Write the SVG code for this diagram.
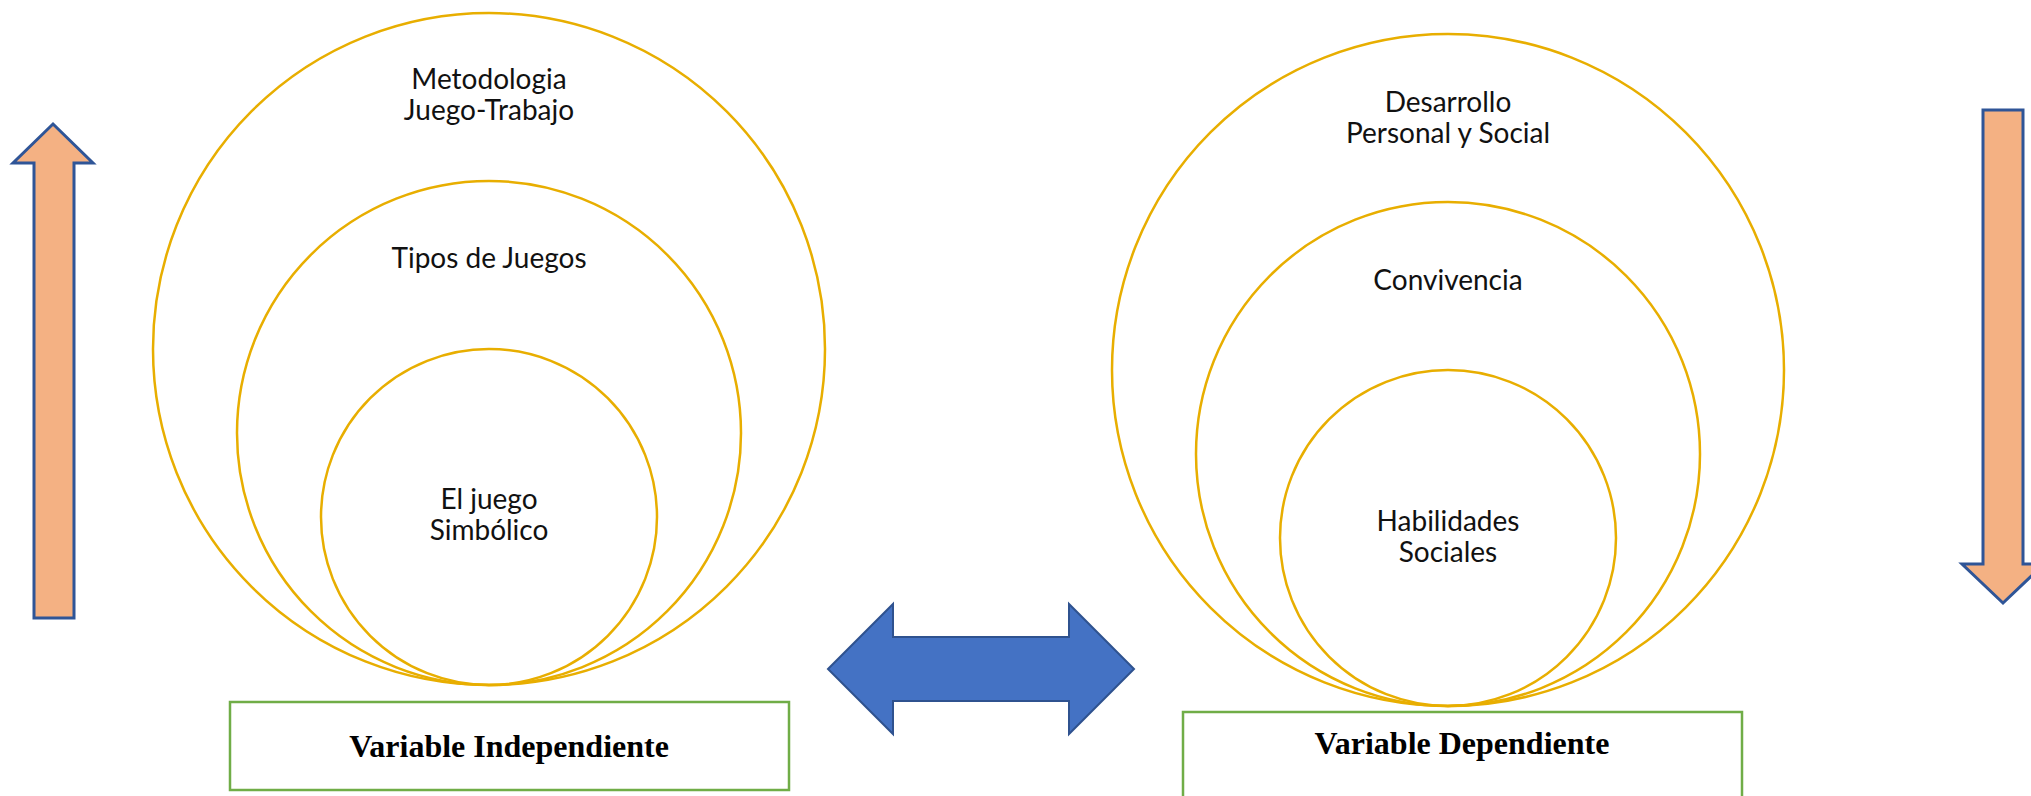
<svg xmlns="http://www.w3.org/2000/svg" width="2031" height="796" viewBox="0 0 2031 796">
<style>
.ring{fill:none;stroke:#E8AE00;stroke-width:2.5}
.lbl{font-family:Lato,"Liberation Sans",sans-serif;font-size:28px;fill:#111;text-anchor:middle}
.box{fill:#fff;stroke:#70AD47;stroke-width:2.5}
.var{font-family:"Liberation Serif","Times New Roman",serif;font-weight:bold;font-size:32px;fill:#000;text-anchor:middle}
.orange{fill:#F4B183;stroke:#2F5597;stroke-width:3}
.blue{fill:#4472C4;stroke:#2F528F;stroke-width:2}
</style>
<rect width="2031" height="796" fill="#fff"/>
<g id="connectors">
<polygon class="orange" points="53,124 93,163 74,163 74,618 34,618 34,163 13,163"/>
<polygon class="orange" points="1983,110 2023,110 2023,564 2044,564 2003,603 1962,564 1983,564"/>
<polygon class="blue" points="828,669 893,604 893,637 1069,637 1069,604 1134,669 1069,734 1069,701 893,701 893,734"/>
</g>
<g id="independent">
<circle class="ring" cx="489" cy="349" r="336"/>
<circle class="ring" cx="489" cy="433" r="252"/>
<circle class="ring" cx="489" cy="517" r="168"/>
<text class="lbl" x="489" y="89">Metodologia</text>
<text class="lbl" x="489" y="120">Juego-Trabajo</text>
<text class="lbl" x="489" y="268">Tipos de Juegos</text>
<text class="lbl" x="489" y="509">El juego</text>
<text class="lbl" x="489" y="540">Simbólico</text>
</g>
<g id="dependent">
<circle class="ring" cx="1448" cy="370" r="336"/>
<circle class="ring" cx="1448" cy="454" r="252"/>
<circle class="ring" cx="1448" cy="538" r="168"/>
<text class="lbl" x="1448" y="112">Desarrollo</text>
<text class="lbl" x="1448" y="143">Personal y Social</text>
<text class="lbl" x="1448" y="290">Convivencia</text>
<text class="lbl" x="1448" y="531">Habilidades</text>
<text class="lbl" x="1448" y="562">Sociales</text>
</g>
<g id="box-independiente">
<rect class="box" x="230" y="702" width="559" height="88"/>
<text class="var" x="509" y="757">Variable Independiente</text>
</g>
<g id="box-dependiente">
<rect class="box" x="1183" y="712" width="559" height="100"/>
<text class="var" x="1462" y="754">Variable Dependiente</text>
</g>
</svg>
